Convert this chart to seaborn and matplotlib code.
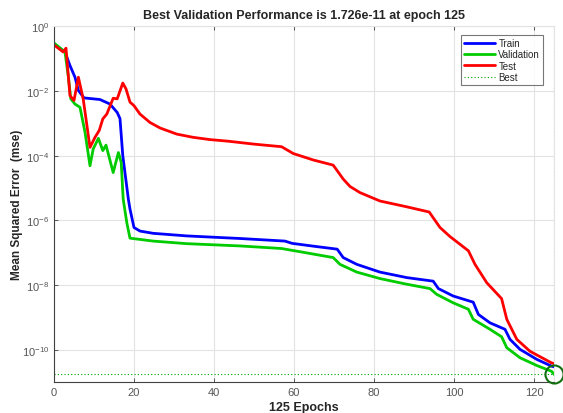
import numpy as np
import pandas as pd
import matplotlib
matplotlib.use("Agg")
import matplotlib.pyplot as plt
import seaborn as sns

# (x = epoch, y = log10 of MSE)
train_epoch = [0, 2.75, 4, 5.25, 6.1, 7.5, 11.5, 14, 15.8, 16.5, 17.2, 18.6, 19, 20, 21.5, 24.8, 33.2,
               46.5, 57.75, 59.5, 65, 70.8, 72.3, 75.7, 81.5, 88.2, 94.8, 96.1, 99.8, 104.8, 106.1,
               109, 112.75, 114, 116.5, 120.7, 124.4, 125]
train_log = [-0.54, -0.79, -1.21, -1.57, -1.98, -2.21, -2.26, -2.40, -2.66, -2.85, -4.00, -5.35, -5.65,
             -6.22, -6.33, -6.40, -6.48, -6.56, -6.64, -6.71, -6.80, -6.89, -7.15, -7.36, -7.60,
             -7.77, -7.88, -8.11, -8.34, -8.53, -8.91, -9.17, -9.37, -9.68, -9.99, -10.30, -10.51,
             -10.53]

val_epoch = [0, 2.75, 3.6, 4.2, 5.25, 6.5, 7.75, 9, 9.8, 11.1, 12.2, 13, 14.8, 16.1, 16.8, 17.3, 18.2,
             19, 24.8, 33.2, 46.5, 56.9, 62, 69.8, 71.5, 75.7, 81.5, 88, 94, 95.7, 99.8, 103.6, 104.8,
             109, 111.9, 113.2, 116.5, 120.7, 124.4, 125]
val_log = [-0.51, -0.79, -1.57, -2.24, -2.40, -2.50, -3.27, -4.31, -3.79, -3.46, -3.84, -3.67, -4.52,
           -3.90, -4.20, -5.34, -6.07, -6.55, -6.64, -6.72, -6.79, -6.87, -6.98, -7.15, -7.36, -7.60,
           -7.80, -7.97, -8.11, -8.29, -8.55, -8.75, -9.06, -9.37, -9.60, -9.94, -10.25, -10.49,
           -10.67, -10.763]

test_epoch = [0, 2.3, 3, 4, 5, 6.1, 7.3, 9, 10.25, 11.3, 12.2, 13.2, 14.8, 15.8, 17.2, 18, 19, 20,
              21.5, 24, 26.5, 30.7, 34.8, 39, 43.6, 50, 56.9, 59.8, 64.8, 69.8, 72.3, 74, 76.5, 81.5,
              88.2, 93.8, 96.5, 99, 103.6, 105.25, 108.2, 111.9, 113.2, 115.7, 119, 124.4, 125]
test_log = [-0.57, -0.79, -0.67, -2.14, -2.29, -1.57, -2.24, -3.74, -3.43, -3.22, -2.86, -2.71, -2.22,
            -2.24, -1.75, -1.93, -2.34, -2.45, -2.71, -2.97, -3.14, -3.33, -3.43, -3.50, -3.55, -3.64,
            -3.72, -3.93, -4.13, -4.29, -4.72, -4.95, -5.14, -5.40, -5.58, -5.74, -6.22, -6.50,
            -6.94, -7.36, -7.93, -8.42, -9.06, -9.68, -10.05, -10.41, -10.43]

best_epoch = 125
best_perf = 1.726e-11
x_ticks = [0, 20, 40, 60, 80, 100, 120]
y_ticks = [1e0, 1e-2, 1e-4, 1e-6, 1e-8, 1e-10]

sns.set_style("white")
plt.rcParams['font.family'] = ['Liberation Sans', 'DejaVu Sans']

fig = plt.figure(figsize=(5.63, 4.14), dpi=100)
ax = fig.add_axes([0.0959, 0.0749, 0.8881, 0.8587])

df_train = pd.DataFrame({"epoch": train_epoch, "mse": 10 ** np.array(train_log)})
df_val = pd.DataFrame({"epoch": val_epoch, "mse": 10 ** np.array(val_log)})
df_test = pd.DataFrame({"epoch": test_epoch, "mse": 10 ** np.array(test_log)})

sns.lineplot(data=df_train, x="epoch", y="mse", ax=ax, color="#0000ff", lw=2, sort=False,
             estimator=None, label="Train")
sns.lineplot(data=df_val, x="epoch", y="mse", ax=ax, color="#00cc00", lw=2, sort=False,
             estimator=None, label="Validation")
sns.lineplot(data=df_test, x="epoch", y="mse", ax=ax, color="#ff0000", lw=2, sort=False,
             estimator=None, label="Test")

ax.set_yscale("log")
ax.set_xlim(0, 125)
ax.set_ylim(1e-11, 1e0)

best_color = "#00a000"
ax.axhline(best_perf, color=best_color, ls=(0, (1, 2)), lw=0.8, label="Best")
ax.axvline(best_epoch, color=best_color, ls=(0, (1, 2)), lw=0.8)
ax.plot([best_epoch], [best_perf], marker="o", ms=13, mfc="none", mec="#107010", mew=1.5,
        clip_on=False, zorder=5)

ax.set_xticks(x_ticks)
ax.set_yticks(y_ticks)
ax.yaxis.set_minor_locator(matplotlib.ticker.NullLocator())
ax.grid(True, color="#e3e3e3", lw=0.8)
ax.tick_params(direction="in", length=3, width=0.6, colors="#404040", labelcolor="#555555",
               labelsize=8, top=True, right=False, bottom=True, left=True)
for s in ["left", "bottom"]:
    ax.spines[s].set_color("#404040")
    ax.spines[s].set_linewidth(0.8)
for s in ["top", "right"]:
    ax.spines[s].set_color("#e3e3e3")
    ax.spines[s].set_linewidth(0.8)

ax.set_title("Best Validation Performance is 1.726e-11 at epoch 125", fontsize=9,
             fontweight="bold", pad=6)
ax.set_xlabel("125 Epochs", fontsize=9, fontweight="bold", labelpad=3)
ax.set_ylabel("Mean Squared Error  (mse)", fontsize=8.5, fontweight="bold")
ax.yaxis.set_label_coords(-0.062, 0.5)

leg = ax.legend(loc="upper right", bbox_to_anchor=(0.978, 0.976), fontsize=7, frameon=True,
                fancybox=False, handlelength=3.2, borderpad=0.3, labelspacing=0.15,
                handletextpad=0.3, borderaxespad=0)
leg.get_frame().set_edgecolor("#555555")
leg.get_frame().set_linewidth(0.8)

fig.savefig("out.png", dpi=100)
